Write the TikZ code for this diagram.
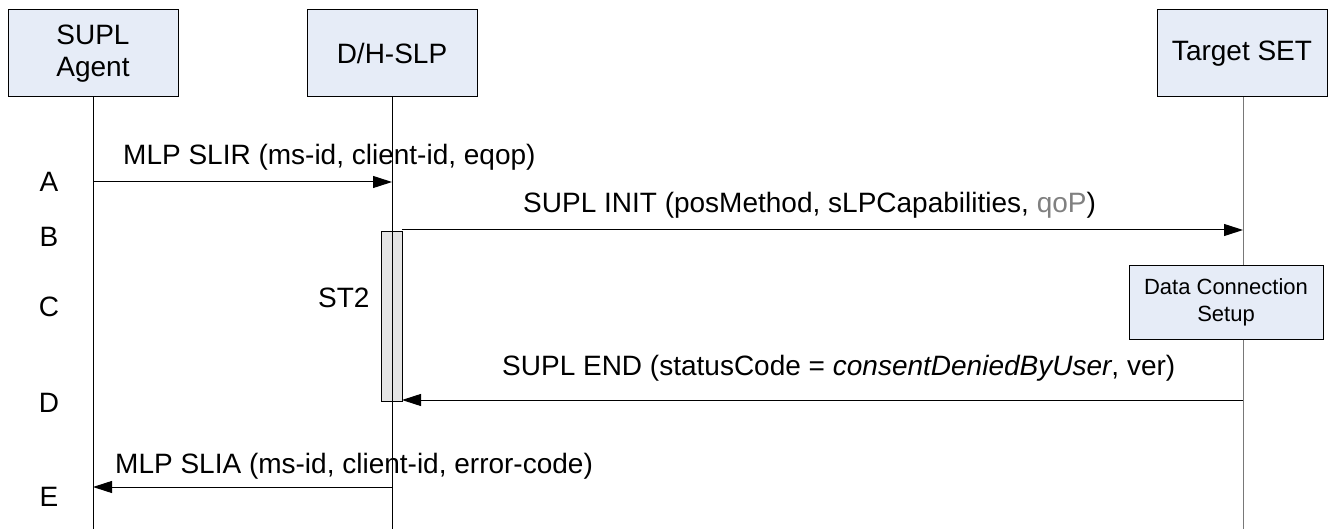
\documentclass[tikz,border=0pt]{standalone}
\usepackage{fontspec}
\setmainfont{Liberation Sans}
\usetikzlibrary{arrows.meta}
\definecolor{boxfill}{RGB}{230,236,247}
\definecolor{actfill}{RGB}{228,228,228}
\definecolor{qopgray}{RGB}{128,128,128}
\definecolor{lifegray}{RGB}{120,120,120}
\begin{document}
\begin{tikzpicture}[x=1pt,y=-1pt,
  actor/.style={draw, fill=boxfill, line width=1pt, minimum width=170pt, minimum height=87pt,
    align=center, inner sep=0pt, font=\fontsize{28}{32}\selectfont},
  procbox/.style={draw, fill=boxfill, line width=1pt, minimum width=194pt, minimum height=73pt,
    align=center, inner sep=0pt, font=\fontsize{22}{27}\selectfont},
  actbox/.style={draw, fill=actfill, line width=1pt, minimum width=21pt, minimum height=169pt, inner sep=0pt},
  life/.style={line width=1pt},
  msg/.style={line width=1pt, -{Triangle[length=19pt,width=12pt]}},
  lbl/.style={anchor=base west, inner sep=0pt, font=\fontsize{28}{32}\selectfont},
  steplbl/.style={anchor=center, inner sep=0pt, font=\fontsize{28}{32}\selectfont}
]
\useasboundingbox (0,0) rectangle (1343,529);

% actors
\node[actor] (agent) at (93,53.5) {SUPL\\Agent};
\node[actor] (slp) at (392,53.5) {D/H-SLP};
\node[actor] (set) at (1242,53.5) {Target SET};

% lifeline end points
\coordinate (agentEnd) at (93,529);
\coordinate (slpEnd) at (392,529);
\coordinate (setEnd) at (1243,529);

% activation box and data connection setup
\node[actbox] (act) at (391.5,316.5) {};
\node[procbox] (dcs) at (1226,302.5) {Data Connection\\Setup};

% lifelines
\draw[life] (agent.south) -- (agentEnd);
\draw[life] (slp.south) -- (slpEnd);
\draw[life, lifegray] (set.south -| setEnd) -- (dcs.north -| setEnd);
\draw[life, lifegray] (dcs.south -| setEnd) -- (setEnd);

% message end points
\coordinate (a1) at (93,182);
\coordinate (a2) at (392,182);
\coordinate (b1) at (402,230);
\coordinate (b2) at (1243,230);
\coordinate (d1) at (1243,400);
\coordinate (d2) at (402,400);
\coordinate (e1) at (392,487);
\coordinate (e2) at (93,487);

% messages
\draw[msg] (a1) -- (a2);
\draw[msg] (b1) -- (b2);
\draw[msg] (d1) -- (d2);
\draw[msg] (e1) -- (e2);

% message labels
\node[lbl] (la) at (123,165) {MLP SLIR (ms-id, client-id, eqop)};
\node[lbl] (lb) at (523,213) {SUPL INIT (posMethod, sLPCapabilities, {\color{qopgray}qoP})};
\node[lbl] (ld) at (502,375) {SUPL END (statusCode = \textit{consentDeniedByUser}, ver)};
\node[lbl] (le) at (115,473) {MLP SLIA (ms-id, client-id, error-code)};

% step letters
\node[steplbl] (sA) at (49,182) {A};
\node[steplbl] (sB) at (49,237) {B};
\node[steplbl] (sC) at (49,307) {C};
\node[steplbl] (sD) at (49,403) {D};
\node[steplbl] (sE) at (49,497) {E};

% timer label
\node[steplbl, anchor=west] (st2) at (318,298) {ST2};
\end{tikzpicture}
\end{document}
